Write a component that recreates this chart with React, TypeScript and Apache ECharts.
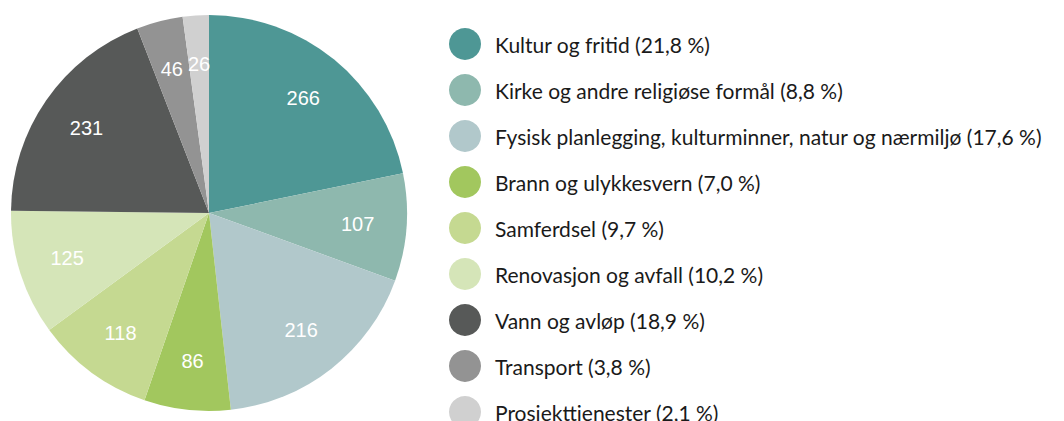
import React, { useEffect, useRef } from "react";
import * as echarts from "echarts";

const categories = [
  "Kultur og fritid",
  "Kirke og andre religiøse formål",
  "Fysisk planlegging, kulturminner, natur og nærmiljø",
  "Brann og ulykkesvern",
  "Samferdsel",
  "Renovasjon og avfall",
  "Vann og avløp",
  "Transport",
  "Prosjekttjenester",
];
const values = [266, 107, 216, 86, 118, 125, 231, 46, 26];
const percentLabels = ["21,8", "8,8", "17,6", "7,0", "9,7", "10,2", "18,9", "3,8", "2,1"];
const colors = [
  "#4e9795",
  "#8eb8ae",
  "#b1c8cb",
  "#a2c75e",
  "#c5d991",
  "#d5e5b8",
  "#575958",
  "#939393",
  "#d0d0d0",
];

export default function App() {
  const ref = useRef<HTMLDivElement>(null);
  useEffect(() => {
    document.body.style.margin = "0";
    const chart = echarts.init(ref.current!, null, { renderer: "svg" });
    const data = categories.map((name, i) => ({ name, value: values[i] }));
    const pctMap: Record<string, string> = {};
    categories.forEach((c, i) => (pctMap[c] = percentLabels[i]));
    chart.setOption({
      animation: false,
      color: colors,
      legend: {
        orient: "vertical",
        left: 444,
        top: 23,
        height: 480,
        itemWidth: 50,
        itemHeight: 32,
        itemGap: 14,
        icon: "circle",
        selectedMode: false,
        data: categories,
        formatter: (name: string) => `${name} (${pctMap[name]} %)`,
        textStyle: {
          fontFamily: "Lato",
          fontSize: 21,
          color: "#1a1a1a",
        },
      },
      series: [
        {
          type: "pie",
          center: [209, 213],
          radius: [0, 198],
          startAngle: 90,
          clockwise: true,
          silent: true,
          label: { show: false },
          labelLine: { show: false },
          itemStyle: { borderWidth: 0 },
          data,
        },
        {
          type: "pie",
          center: [209, 213],
          radius: [94, 198],
          startAngle: 90,
          clockwise: true,
          silent: true,
          legendHoverLink: false,
          itemStyle: { color: "rgba(0,0,0,0)", borderWidth: 0 },
          label: {
            show: true,
            position: "inside",
            formatter: "{c}",
            color: "#ffffff",
            fontFamily: "Liberation Sans",
            fontSize: 20,
          },
          labelLine: { show: false },
          data: data.map((d) => ({ ...d, name: d.name + " " })),
        },
      ],
    });
    return () => chart.dispose();
  }, []);
  return <div ref={ref} style={{ width: 1064, height: 421 }} />;
}
